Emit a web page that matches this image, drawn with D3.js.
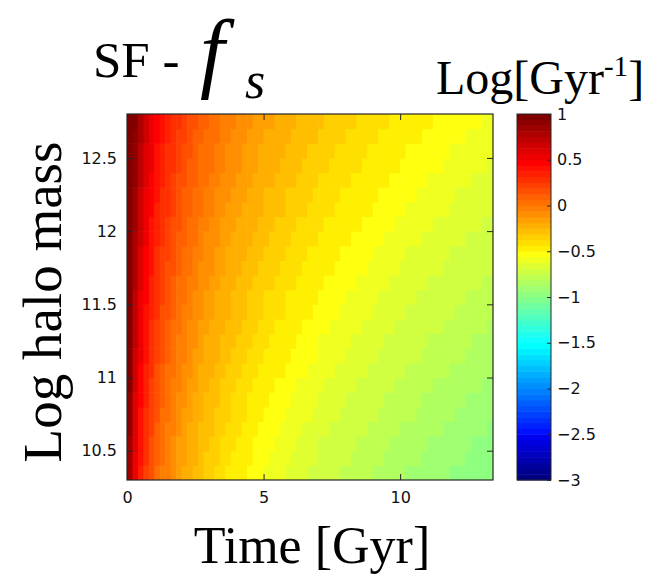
<!DOCTYPE html>
<html><head><meta charset="utf-8">
<script src="https://cdn.jsdelivr.net/npm/d3@7"></script>
<style>body{margin:0;background:#fff}svg{display:block}</style>
</head><body>
<svg id="chart" width="647" height="574"></svg>
<script>
// ---- data ----
// cell edges along time [Gyr] and log halo mass
const timeEdges = [0,0.2,0.4,0.6,0.8,1,1.2,1.4,1.6,1.8,2,2.2,2.4,2.6,2.8,3,3.2,3.4,3.6,3.8,4,4.2,4.4,4.6,4.8,5,5.2,5.4,5.6,5.8,6,6.2,6.4,6.6,6.8,7,7.2,7.4,7.6,7.8,8,8.2,8.4,8.6,8.8,9,9.2,9.4,9.6,9.8,10,10.2,10.4,10.6,10.8,11,11.2,11.4,11.6,11.8,12,12.2,12.4,12.6,12.8,13,13.2,13.4];
const massEdges = [10.3,10.4,10.5,10.6,10.7,10.8,10.9,11,11.1,11.2,11.3,11.4,11.5,11.6,11.7,11.8,11.9,12,12.1,12.2,12.3,12.4,12.5,12.6,12.7,12.8];
// SF f_s in units of 0.01 Log[Gyr^-1]; first row = lowest mass bin
const fsRows = [
[84,54,36,24,14,6,-1,-6,-11,-16,-20,-24,-27,-31,-34,-36,-39,-42,-44,-46,-48,-50,-52,-54,-56,-58,-59,-61,-62,-64,-65,-67,-68,-69,-70,-72,-73,-74,-75,-76,-77,-78,-79,-80,-81,-82,-83,-84,-85,-86,-87,-88,-88,-89,-90,-91,-92,-92,-93,-94,-95,-95,-96,-97,-97,-98,-99],
[86,56,38,26,16,8,1,-4,-9,-14,-18,-22,-25,-29,-32,-34,-37,-40,-42,-44,-46,-48,-50,-52,-54,-56,-57,-59,-60,-62,-63,-65,-66,-67,-68,-70,-71,-72,-73,-74,-75,-76,-77,-78,-79,-80,-81,-82,-83,-84,-85,-86,-86,-87,-88,-89,-90,-90,-91,-92,-93,-93,-94,-95,-95,-96,-97],
[87,57,39,27,17,9,2,-3,-8,-13,-17,-21,-24,-28,-31,-33,-36,-39,-41,-43,-45,-47,-49,-51,-53,-55,-56,-58,-59,-61,-62,-64,-65,-66,-67,-69,-70,-71,-72,-73,-74,-75,-76,-77,-78,-79,-80,-81,-82,-83,-84,-85,-85,-86,-87,-88,-89,-89,-90,-91,-92,-92,-93,-94,-94,-95,-96],
[89,59,41,29,19,11,4,-1,-6,-11,-15,-19,-22,-26,-29,-31,-34,-37,-39,-41,-43,-45,-47,-49,-51,-53,-54,-56,-57,-59,-60,-62,-63,-64,-65,-67,-68,-69,-70,-71,-72,-73,-74,-75,-76,-77,-78,-79,-80,-81,-82,-83,-83,-84,-85,-86,-87,-87,-88,-89,-90,-90,-91,-92,-92,-93,-94],
[91,61,43,31,21,13,6,1,-4,-9,-13,-17,-20,-24,-27,-29,-32,-35,-37,-39,-41,-43,-45,-47,-49,-51,-52,-54,-55,-57,-58,-60,-61,-62,-63,-65,-66,-67,-68,-69,-70,-71,-72,-73,-74,-75,-76,-77,-78,-79,-80,-81,-81,-82,-83,-84,-85,-85,-86,-87,-88,-88,-89,-90,-90,-91,-92],
[92,62,44,32,22,14,7,2,-3,-8,-12,-16,-19,-23,-26,-28,-31,-34,-36,-38,-40,-42,-44,-46,-48,-50,-51,-53,-54,-56,-57,-59,-60,-61,-62,-64,-65,-66,-67,-68,-69,-70,-71,-72,-73,-74,-75,-76,-77,-78,-79,-80,-80,-81,-82,-83,-84,-84,-85,-86,-87,-87,-88,-89,-89,-90,-91],
[94,64,46,34,24,16,9,4,-1,-6,-10,-14,-17,-21,-24,-26,-29,-32,-34,-36,-38,-40,-42,-44,-46,-48,-49,-51,-52,-54,-55,-57,-58,-59,-60,-62,-63,-64,-65,-66,-67,-68,-69,-70,-71,-72,-73,-74,-75,-76,-77,-78,-78,-79,-80,-81,-82,-82,-83,-84,-85,-85,-86,-87,-87,-88,-89],
[96,66,48,36,26,18,11,6,1,-4,-8,-12,-15,-19,-22,-24,-27,-30,-32,-34,-36,-38,-40,-42,-44,-46,-47,-49,-50,-52,-53,-55,-56,-57,-58,-60,-61,-62,-63,-64,-65,-66,-67,-68,-69,-70,-71,-72,-73,-74,-75,-76,-76,-77,-78,-79,-80,-80,-81,-82,-83,-83,-84,-85,-85,-86,-87],
[98,68,50,38,28,20,13,8,3,-2,-6,-10,-13,-17,-20,-22,-25,-28,-30,-32,-34,-36,-38,-40,-42,-44,-45,-47,-48,-50,-51,-53,-54,-55,-56,-58,-59,-60,-61,-62,-63,-64,-65,-66,-67,-68,-69,-70,-71,-72,-73,-74,-74,-75,-76,-77,-78,-78,-79,-80,-81,-81,-82,-83,-83,-84,-85],
[99,69,51,39,29,21,14,9,4,-1,-5,-9,-12,-16,-19,-21,-24,-27,-29,-31,-33,-35,-37,-39,-41,-43,-44,-46,-47,-49,-50,-52,-53,-54,-55,-57,-58,-59,-60,-61,-62,-63,-64,-65,-66,-67,-68,-69,-70,-71,-72,-73,-73,-74,-75,-76,-77,-77,-78,-79,-80,-80,-81,-82,-82,-83,-84],
[101,71,53,41,31,23,16,11,6,1,-3,-7,-10,-14,-17,-19,-22,-25,-27,-29,-31,-33,-35,-37,-39,-41,-42,-44,-45,-47,-48,-50,-51,-52,-53,-55,-56,-57,-58,-59,-60,-61,-62,-63,-64,-65,-66,-67,-68,-69,-70,-71,-71,-72,-73,-74,-75,-75,-76,-77,-78,-78,-79,-80,-80,-81,-82],
[103,73,55,43,33,25,18,13,8,3,-1,-5,-8,-12,-15,-17,-20,-23,-25,-27,-29,-31,-33,-35,-37,-39,-40,-42,-43,-45,-46,-48,-49,-50,-51,-53,-54,-55,-56,-57,-58,-59,-60,-61,-62,-63,-64,-65,-66,-67,-68,-69,-69,-70,-71,-72,-73,-73,-74,-75,-76,-76,-77,-78,-78,-79,-80],
[104,74,56,44,34,26,19,14,9,4,0,-4,-7,-11,-14,-16,-19,-22,-24,-26,-28,-30,-32,-34,-36,-38,-39,-41,-42,-44,-45,-47,-48,-49,-50,-52,-53,-54,-55,-56,-57,-58,-59,-60,-61,-62,-63,-64,-65,-66,-67,-68,-68,-69,-70,-71,-72,-72,-73,-74,-75,-75,-76,-77,-77,-78,-79],
[106,76,58,46,36,28,21,16,11,6,2,-2,-5,-9,-12,-14,-17,-20,-22,-24,-26,-28,-30,-32,-34,-36,-37,-39,-40,-42,-43,-45,-46,-47,-48,-50,-51,-52,-53,-54,-55,-56,-57,-58,-59,-60,-61,-62,-63,-64,-65,-66,-66,-67,-68,-69,-70,-70,-71,-72,-73,-73,-74,-75,-75,-76,-77],
[108,78,60,48,38,30,23,18,13,8,4,0,-3,-7,-10,-12,-15,-18,-20,-22,-24,-26,-28,-30,-32,-34,-35,-37,-38,-40,-41,-43,-44,-45,-46,-48,-49,-50,-51,-52,-53,-54,-55,-56,-57,-58,-59,-60,-61,-62,-63,-64,-64,-65,-66,-67,-68,-68,-69,-70,-71,-71,-72,-73,-73,-74,-75],
[109,79,61,49,39,31,24,19,14,9,5,1,-2,-6,-9,-11,-14,-17,-19,-21,-23,-25,-27,-29,-31,-33,-34,-36,-37,-39,-40,-42,-43,-44,-45,-47,-48,-49,-50,-51,-52,-53,-54,-55,-56,-57,-58,-59,-60,-61,-62,-63,-63,-64,-65,-66,-67,-67,-68,-69,-70,-70,-71,-72,-72,-73,-74],
[111,81,63,51,41,33,26,21,16,11,7,3,0,-4,-7,-9,-12,-15,-17,-19,-21,-23,-25,-27,-29,-31,-32,-34,-35,-37,-38,-40,-41,-42,-43,-45,-46,-47,-48,-49,-50,-51,-52,-53,-54,-55,-56,-57,-58,-59,-60,-61,-61,-62,-63,-64,-65,-65,-66,-67,-68,-68,-69,-70,-70,-71,-72],
[113,83,65,53,43,35,28,23,18,13,9,5,2,-2,-5,-7,-10,-13,-15,-17,-19,-21,-23,-25,-27,-29,-30,-32,-33,-35,-36,-38,-39,-40,-41,-43,-44,-45,-46,-47,-48,-49,-50,-51,-52,-53,-54,-55,-56,-57,-58,-59,-59,-60,-61,-62,-63,-63,-64,-65,-66,-66,-67,-68,-68,-69,-70],
[115,85,67,55,45,37,30,25,20,15,11,7,4,0,-3,-5,-8,-11,-13,-15,-17,-19,-21,-23,-25,-27,-28,-30,-31,-33,-34,-36,-37,-38,-39,-41,-42,-43,-44,-45,-46,-47,-48,-49,-50,-51,-52,-53,-54,-55,-56,-57,-57,-58,-59,-60,-61,-61,-62,-63,-64,-64,-65,-66,-66,-67,-68],
[116,86,68,56,46,38,31,26,21,16,12,8,5,1,-2,-4,-7,-10,-12,-14,-16,-18,-20,-22,-24,-26,-27,-29,-30,-32,-33,-35,-36,-37,-38,-40,-41,-42,-43,-44,-45,-46,-47,-48,-49,-50,-51,-52,-53,-54,-55,-56,-56,-57,-58,-59,-60,-60,-61,-62,-63,-63,-64,-65,-65,-66,-67],
[118,88,70,58,48,40,33,28,23,18,14,10,7,3,0,-2,-5,-8,-10,-12,-14,-16,-18,-20,-22,-24,-25,-27,-28,-30,-31,-33,-34,-35,-36,-38,-39,-40,-41,-42,-43,-44,-45,-46,-47,-48,-49,-50,-51,-52,-53,-54,-54,-55,-56,-57,-58,-58,-59,-60,-61,-61,-62,-63,-63,-64,-65],
[120,90,72,60,50,42,35,30,25,20,16,12,9,5,2,0,-3,-6,-8,-10,-12,-14,-16,-18,-20,-22,-23,-25,-26,-28,-29,-31,-32,-33,-34,-36,-37,-38,-39,-40,-41,-42,-43,-44,-45,-46,-47,-48,-49,-50,-51,-52,-52,-53,-54,-55,-56,-56,-57,-58,-59,-59,-60,-61,-61,-62,-63],
[121,91,73,61,51,43,36,31,26,21,17,13,10,6,3,1,-2,-5,-7,-9,-11,-13,-15,-17,-19,-21,-22,-24,-25,-27,-28,-30,-31,-32,-33,-35,-36,-37,-38,-39,-40,-41,-42,-43,-44,-45,-46,-47,-48,-49,-50,-51,-51,-52,-53,-54,-55,-55,-56,-57,-58,-58,-59,-60,-60,-61,-62],
[123,93,75,63,53,45,38,33,28,23,19,15,12,8,5,3,0,-3,-5,-7,-9,-11,-13,-15,-17,-19,-20,-22,-23,-25,-26,-28,-29,-30,-31,-33,-34,-35,-36,-37,-38,-39,-40,-41,-42,-43,-44,-45,-46,-47,-48,-49,-49,-50,-51,-52,-53,-53,-54,-55,-56,-56,-57,-58,-58,-59,-60],
[125,95,77,65,55,47,40,35,30,25,21,17,14,10,7,5,2,-1,-3,-5,-7,-9,-11,-13,-15,-17,-18,-20,-21,-23,-24,-26,-27,-28,-29,-31,-32,-33,-34,-35,-36,-37,-38,-39,-40,-41,-42,-43,-44,-45,-46,-47,-47,-48,-49,-50,-51,-51,-52,-53,-54,-54,-55,-56,-56,-57,-58]
];
const xTicks = [0, 5, 10];
const yTicks = [10.5, 11, 11.5, 12, 12.5];
const cTicks = [1, 0.5, 0, -0.5, -1, -1.5, -2, -2.5, -3];
const cDomain = [-3, 1];

// ---- MATLAB jet(64) colormap ----
function jet(k) { // k = 1..64
  const r = k <= 24 ? 0 : k <= 40 ? (k - 24) / 16 : k <= 56 ? 1 : 1 - (k - 56) / 16;
  const g = k <= 8 ? 0 : k <= 24 ? (k - 8) / 16 : k <= 40 ? 1 : k <= 56 ? 1 - (k - 40) / 16 : 0;
  const b = k <= 8 ? (k + 7) / 16 : k <= 25 ? 1 : k <= 40 ? 1 - (k - 25) / 16 : 0;
  return d3.rgb(r * 255, g * 255, b * 255).formatHex();
}
const jetColors = d3.range(1, 65).map(jet);
const color = d3.scaleQuantize().domain(cDomain).range(jetColors);

// ---- layout ----
const svg = d3.select("#chart");
const P = {left: 127, right: 493, top: 114, bottom: 480};
const x = d3.scaleLinear().domain([timeEdges[0], timeEdges[timeEdges.length - 1]]).range([P.left, P.right]);
const y = d3.scaleLinear().domain([massEdges[0], massEdges[massEdges.length - 1]]).range([P.bottom, P.top]);
const axisColor = "#262626";
const tickFont = "'DejaVu Sans', Verdana, sans-serif";
const serif = "'Liberation Serif', 'Times New Roman', serif";

// cells
const cells = [];
fsRows.forEach((row, r) => row.forEach((v, c) => cells.push({t0: timeEdges[c], t1: timeEdges[c + 1], m0: massEdges[r], m1: massEdges[r + 1], v: v / 100})));
svg.append("g").selectAll("rect").data(cells).join("rect")
  .attr("x", d => x(d.t0))
  .attr("y", d => y(d.m1))
  .attr("width", d => Math.min(x(d.t1) - x(d.t0) + 0.6, P.right - x(d.t0)))
  .attr("height", d => Math.min(y(d.m0) - y(d.m1) + 0.6, P.bottom - y(d.m1)))
  .attr("fill", d => color(d.v));

// axes (ticks inward)
function styleAxis(g) {
  g.select(".domain").remove();
  g.selectAll(".tick line").attr("stroke", axisColor);
  g.selectAll(".tick text").attr("fill", "#111").style("font-family", tickFont).style("font-size", "16px");
}
svg.append("g").attr("transform", `translate(0,${P.bottom})`)
  .call(d3.axisBottom(x).tickValues(xTicks).tickSize(-6).tickPadding(12).tickFormat(d3.format("d"))).call(styleAxis);
svg.append("g").attr("transform", `translate(0,${P.top})`)
  .call(d3.axisTop(x).tickValues(xTicks).tickSize(-6).tickFormat("")).call(styleAxis);
svg.append("g").attr("transform", `translate(${P.left},0)`)
  .call(d3.axisLeft(y).tickValues(yTicks).tickSize(-6).tickPadding(10).tickFormat(d3.format("~g"))).call(styleAxis);
svg.append("g").attr("transform", `translate(${P.right},0)`)
  .call(d3.axisRight(y).tickValues(yTicks).tickSize(-6).tickFormat("")).call(styleAxis);
svg.append("rect").attr("x", P.left).attr("y", P.top).attr("width", P.right - P.left).attr("height", P.bottom - P.top)
  .attr("fill", "none").attr("stroke", axisColor).attr("stroke-width", 1.2);

// colorbar
const CB = {left: 517, right: 551};
const cy = d3.scaleLinear().domain(cDomain).range([P.bottom, P.top]);
const levels = [cDomain[0], ...color.thresholds(), cDomain[1]];
svg.append("g").selectAll("rect").data(jetColors).join("rect")
  .attr("x", CB.left).attr("width", CB.right - CB.left)
  .attr("y", (d, i) => cy(levels[i + 1]))
  .attr("height", (d, i) => cy(levels[i]) - cy(levels[i + 1]) + 0.5)
  .attr("fill", d => d);
svg.append("g").attr("transform", `translate(${CB.right},0)`)
  .call(d3.axisRight(cy).tickValues(cTicks).tickSize(-4).tickPadding(6).tickFormat(d3.format("~g"))).call(styleAxis);
svg.append("rect").attr("x", CB.left).attr("y", P.top).attr("width", CB.right - CB.left).attr("height", P.bottom - P.top)
  .attr("fill", "none").attr("stroke", axisColor).attr("stroke-width", 1);

// titles
const title = svg.append("g").style("font-family", serif).attr("fill", "#000");
title.append("text").attr("x", 93).attr("y", 77).style("font-size", "51px").text("SF -");
title.append("text").attr("x", 200).attr("y", 81).style("font-size", "88px").style("font-style", "italic").text("f");
title.append("text").attr("x", 245).attr("y", 98).style("font-size", "52px").style("font-style", "italic").text("s");

const cbl = svg.append("text").attr("x", 436).attr("y", 94).style("font-family", serif).style("font-size", "48px").attr("fill", "#000");
cbl.append("tspan").text("Log[Gyr");
cbl.append("tspan").attr("dy", -18).style("font-size", "29px").text("-1");
cbl.append("tspan").attr("dy", 18).text("]");

svg.append("text").attr("x", (P.left + P.right) / 2 + 2).attr("y", 563).attr("text-anchor", "middle")
  .style("font-family", serif).style("font-size", "52px").attr("fill", "#000").text("Time [Gyr]");
svg.append("text").attr("transform", `translate(61,${(P.top + P.bottom) / 2 + 5}) rotate(-90)`).attr("text-anchor", "middle")
  .style("font-family", serif).style("font-size", "55px").attr("fill", "#000").text("Log halo mass");
</script>
</body></html>
